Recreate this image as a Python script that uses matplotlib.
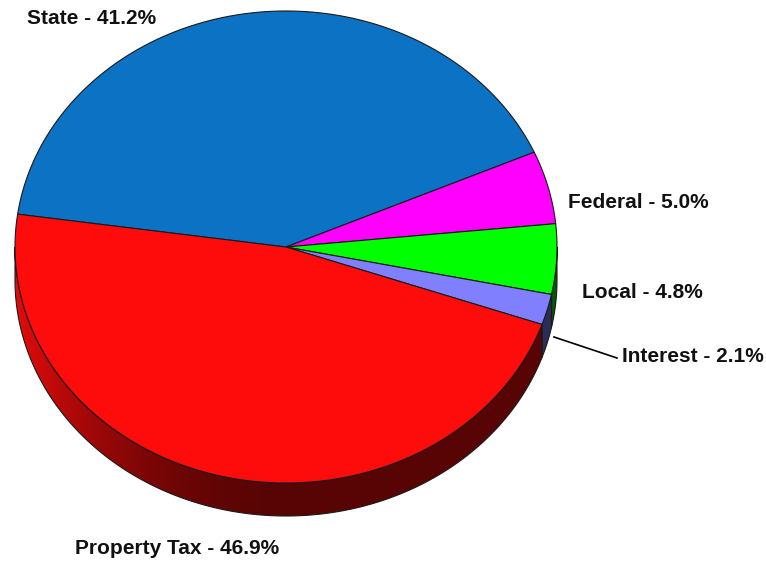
import numpy as np
import matplotlib
matplotlib.use('Agg')
import matplotlib.pyplot as plt
from matplotlib.patches import Polygon

# slices in clockwise order starting from the left edge of State
labels = ['State', 'Federal', 'Local', 'Interest', 'Property Tax']
values = [41.2, 5.0, 4.8, 2.1, 46.9]
colors = ['#0b72c4', '#ff00ff', '#00ff00', '#8080ff', '#fe0c0c']

# pie geometry (pixels)
cx, cy = 286, 247
rx, ry = 271, 236
depth = 33
start = 172.0

fig = plt.figure(figsize=(7.66, 5.65), dpi=100)
ax = fig.add_axes([0, 0, 1, 1])
ax.set_xlim(0, 766)
ax.set_ylim(565, 0)
ax.axis('off')

def pt(t, dy=0):
	r = np.radians(t)
	return cx + rx*np.cos(r), cy - ry*np.sin(r) + dy

edge = '#1a1a1a'
angles = [start]
for v in values:
	angles.append(angles[-1] - v/100*360)

#### sides (front half only), shaded darker towards the front ####
for i, v in enumerate(values):
	a0, a1 = angles[i], angles[i+1]
	lo, hi = max(a1, -180), min(a0, 0)
	if lo >= hi:
		continue
	ts = np.linspace(hi, lo, 200)
	top = [pt(t) for t in ts]
	bot = [pt(t, depth) for t in ts[::-1]]
	poly = Polygon(top + bot, closed=True, fc='none', ec=edge, lw=0.8, zorder=2)
	ax.add_patch(poly)
	base = np.array(matplotlib.colors.to_rgb(colors[i]))
	xs = np.linspace(cx - rx, cx + rx, 400)
	f = 0.35 + 0.55*np.clip(-(xs - cx)/rx, 0, 1)**2
	img = (f[:, None]*base[None, :])[None, :, :]
	im = ax.imshow(img, extent=(cx - rx, cx + rx, cy + ry + depth + 2, cy - 5),
	               aspect='auto', interpolation='bilinear', zorder=1)
	im.set_clip_path(poly)

ax.set_xlim(0, 766)
ax.set_ylim(565, 0)

#### top face ####
for i, v in enumerate(values):
	ts = np.linspace(angles[i], angles[i+1], 200)
	p = [(cx, cy)] + [pt(t) for t in ts]
	ax.add_patch(Polygon(p, closed=True, fc=colors[i], ec=edge, lw=0.8, zorder=3))

#### labels ####
font = dict(family='Liberation Sans', fontsize=15, fontweight='bold', color='#111111', va='center')
ax.text(27, 18, 'State - 41.2%', **font)
ax.text(568, 203, 'Federal - 5.0%', **font)
ax.text(582, 293, 'Local - 4.8%', **font)
ax.text(622, 356, 'Interest - 2.1%', **font)
ax.text(75, 549, 'Property Tax - 46.9%', **font)
ax.plot([554, 617], [337, 358], color='black', lw=1.2)

plt.savefig('out.png', dpi=100)
